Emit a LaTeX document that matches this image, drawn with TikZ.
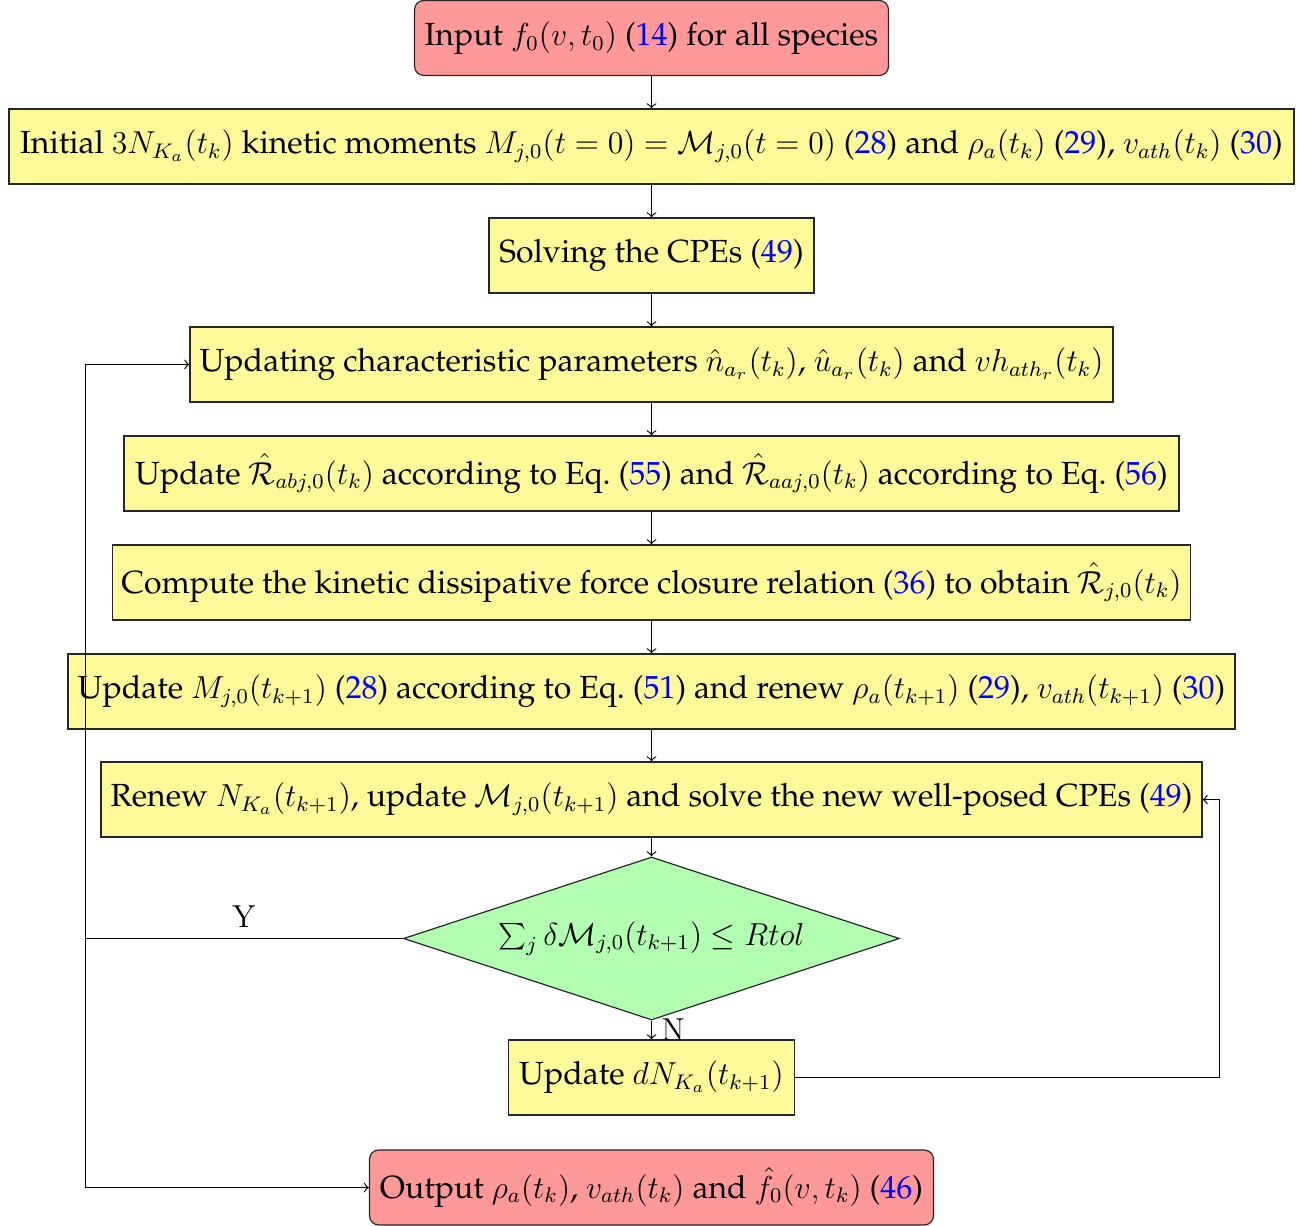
\documentclass[tikz,border=0pt]{standalone}
\usepackage[T1]{fontenc}
\usepackage{palatino}
\usetikzlibrary{shapes.geometric}
\newcommand\pxl[1]{#1*0.378pt}
\newcommand\eqn[1]{(\textcolor{blue}{#1})}
\begin{document}
\begin{tikzpicture}[x=0.378pt,y=-0.378pt,
  base/.style={draw=black!85, line width=0.45pt, inner sep=0pt, align=center,
    minimum height=\pxl{75}, font=\fontsize{12.1}{14}\selectfont},
  startstop/.style={base, fill=red!40, rounded corners=3.5pt},
  proc/.style={base, fill=yellow!40},
  decis/.style={base, diamond, aspect=3.04, fill=green!30},
  arr/.style={->, line width=0.45pt},
  lbl/.style={font=\fontsize{12.6}{14}\selectfont}]
\useasboundingbox (0,0) rectangle (1306,1226);

\node[startstop, minimum width=\pxl{474}] (b1) at (651.5,38)
  {Input $f_0(v,t_0)$ \eqn{14} for all species};
\node[proc, minimum width=\pxl{1285}] (b2) at (651.5,146.5)
  {Initial $3N_{K_a}(t_k)$ kinetic moments $M_{j,0}(t=0)=\mathcal{M}_{j,0}(t=0)$ \eqn{28} and $\rho_a(t_k)$ \eqn{29}, $v_{ath}(t_k)$ \eqn{30}};
\node[proc, minimum width=\pxl{325}] (b3) at (651.5,255.5)
  {Solving the CPEs \eqn{49}};
\node[proc, minimum width=\pxl{923}] (b4) at (651.5,364.5)
  {Updating characteristic parameters $\hat{n}_{a_r}(t_k)$, $\hat{u}_{a_r}(t_k)$ and $vh_{ath_r}(t_k)$};
\node[proc, minimum width=\pxl{1055}] (b5) at (651.5,473.5)
  {Update $\hat{\mathcal{R}}_{abj,0}(t_k)$ according to Eq.~\eqn{55} and $\hat{\mathcal{R}}_{aaj,0}(t_k)$ according to Eq.~\eqn{56}};
\node[proc, minimum width=\pxl{1078}] (b6) at (651.5,582.5)
  {Compute the kinetic dissipative force closure relation \eqn{36} to obtain $\hat{\mathcal{R}}_{j,0}(t_k)$};
\node[proc, minimum width=\pxl{1167}] (b7) at (651.5,691.5)
  {Update $M_{j,0}(t_{k+1})$ \eqn{28} according to Eq.~\eqn{51} and renew $\rho_a(t_{k+1})$ \eqn{29}, $v_{ath}(t_{k+1})$ \eqn{30}};
\node[proc, minimum width=\pxl{1101}] (b8) at (651.5,799.5)
  {Renew $N_{K_a}(t_{k+1})$, update $\mathcal{M}_{j,0}(t_{k+1})$ and solve the new well-posed CPEs \eqn{49}};
\node[decis, minimum width=\pxl{496}, minimum height=\pxl{163}] (dec) at (651.5,938.5)
  {$\sum_j \delta\mathcal{M}_{j,0}(t_{k+1}) \le Rtol$};
\node[proc, minimum width=\pxl{286}] (b10) at (651.5,1077.5)
  {Update $dN_{K_a}(t_{k+1})$};
\node[startstop, minimum width=\pxl{564}] (b11) at (651.5,1187.5)
  {Output $\rho_a(t_k)$, $v_{ath}(t_k)$ and $\hat{f}_0(v,t_k)$ \eqn{46}};

\coordinate (ly) at (85.5,938.5);
\coordinate (lt) at (85.5,364.5);
\coordinate (lb) at (85.5,1187.5);
\coordinate (rr) at (1219.5,1077.5);
\coordinate (rt) at (1219.5,799.5);

\draw[arr] (b1) -- (b2);
\draw[arr] (b2) -- (b3);
\draw[arr] (b3) -- (b4);
\draw[arr] (b4) -- (b5);
\draw[arr] (b5) -- (b6);
\draw[arr] (b6) -- (b7);
\draw[arr] (b7) -- (b8);
\draw[arr] (b8) -- (dec);
\draw[arr] (dec.south) -- node[right, lbl, inner sep=3.5pt] {$\mathrm{N}$} (b10.north);
\draw[line width=0.45pt] (dec.west) -- node[above, lbl, inner sep=4pt] {$\mathrm{Y}$} (ly);
\draw[arr] (ly) -- (lt) -- (b4.west);
\draw[arr] (ly) -- (lb) -- (b11.west);
\draw[arr] (b10.east) -- (rr) -- (rt) -- (b8.east);
\end{tikzpicture}
\end{document}
